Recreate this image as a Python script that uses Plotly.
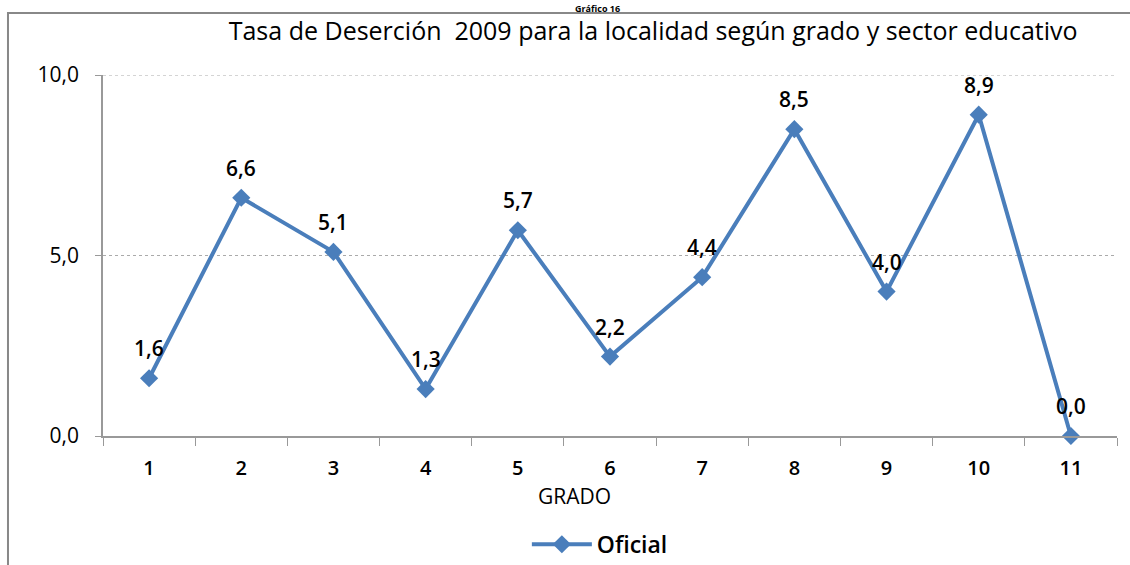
import plotly.graph_objects as go

# data
grados = ["1", "2", "3", "4", "5", "6", "7", "8", "9", "10", "11"]
oficial = [1.6, 6.6, 5.1, 1.3, 5.7, 2.2, 4.4, 8.5, 4.0, 8.9, 0.0]
y_ticks = [0, 5, 10]

blue = "#4a7ebb"
font_fam = "Open Sans, Lato, sans-serif"
xs = list(range(1, len(grados) + 1))

fig = go.Figure()
fig.add_trace(go.Scatter(
    x=xs,
    y=oficial,
    mode="lines+markers",
    name="Oficial",
    line=dict(color=blue, width=4),
    marker=dict(symbol="diamond", size=14, color=blue),
    cliponaxis=False,
))

# data labels above each point
for x, v in zip(xs, oficial):
    fig.add_annotation(x=x, y=v, text=f"{v:.1f}".replace(".", ","), showarrow=False,
                       yshift=30, font=dict(size=21, weight=600, color="black"))

# dotted gridlines (the top one is otherwise dropped at the plot edge)
for t in y_ticks[1:]:
    fig.add_hline(y=t, line=dict(color="#aaaaaa", width=1, dash="dot"), layer="below")

fig.update_layout(
    width=1130, height=565,
    margin=dict(l=103, r=13, t=75, b=129, autoexpand=False),
    paper_bgcolor="white", plot_bgcolor="white",
    separators=", ",
    font=dict(family=font_fam, color="black"),
    title=dict(text="Tasa de Deserción  2009 para la localidad según grado y sector educativo",
               x=0.578, xanchor="center", y=0.944, yanchor="middle",
               font=dict(size=25, weight=500)),
    showlegend=True,
    legend=dict(orientation="h", x=0.49, xanchor="center", y=-0.3, yanchor="middle",
                font=dict(size=23, weight=600), itemwidth=60),
    xaxis=dict(
        range=[0.5, len(grados) + 0.5],
        tickmode="array", tickvals=xs, ticktext=grados,
        showgrid=False, showline=True, linecolor="#999999", linewidth=1.5,
        ticks="", tickfont=dict(size=20, weight=600), zeroline=False,
        ticklabelstandoff=13,
        minor=dict(tickmode="array", tickvals=[i + 0.5 for i in range(0, len(grados) + 1)],
                   ticks="outside", ticklen=8, tickcolor="#999999", showgrid=False),
    ),
    yaxis=dict(
        range=[0, 10], tickvals=y_ticks, tickformat=".1f",
        showgrid=False,
        showline=True, linecolor="#999999", linewidth=1.5,
        ticks="outside", ticklen=6, tickcolor="#999999",
        ticklabelstandoff=12,
        tickfont=dict(size=21), zeroline=False,
    ),
)

fig.add_annotation(text="GRADO", xref="paper", yref="paper", x=0.4645, y=-0.166,
                   showarrow=False, font=dict(size=21), xanchor="center", yanchor="middle")
fig.add_annotation(text="Gráfico 16", xref="paper", yref="paper", x=0.488, y=1.2078,
                   showarrow=False, font=dict(size=9, weight="bold"), xanchor="center", yanchor="top")

# outer chart frame (only left and top edges visible)
fig.add_shape(type="rect", xref="paper", yref="paper", x0=-0.0937, x1=1.03, y0=-0.4, y1=1.1717,
              line=dict(color="#888888", width=2), fillcolor="rgba(0,0,0,0)", layer="below")

fig.write_html("out.html", config={"displayModeBar": False},
               post_script="document.body.style.margin='0';")
